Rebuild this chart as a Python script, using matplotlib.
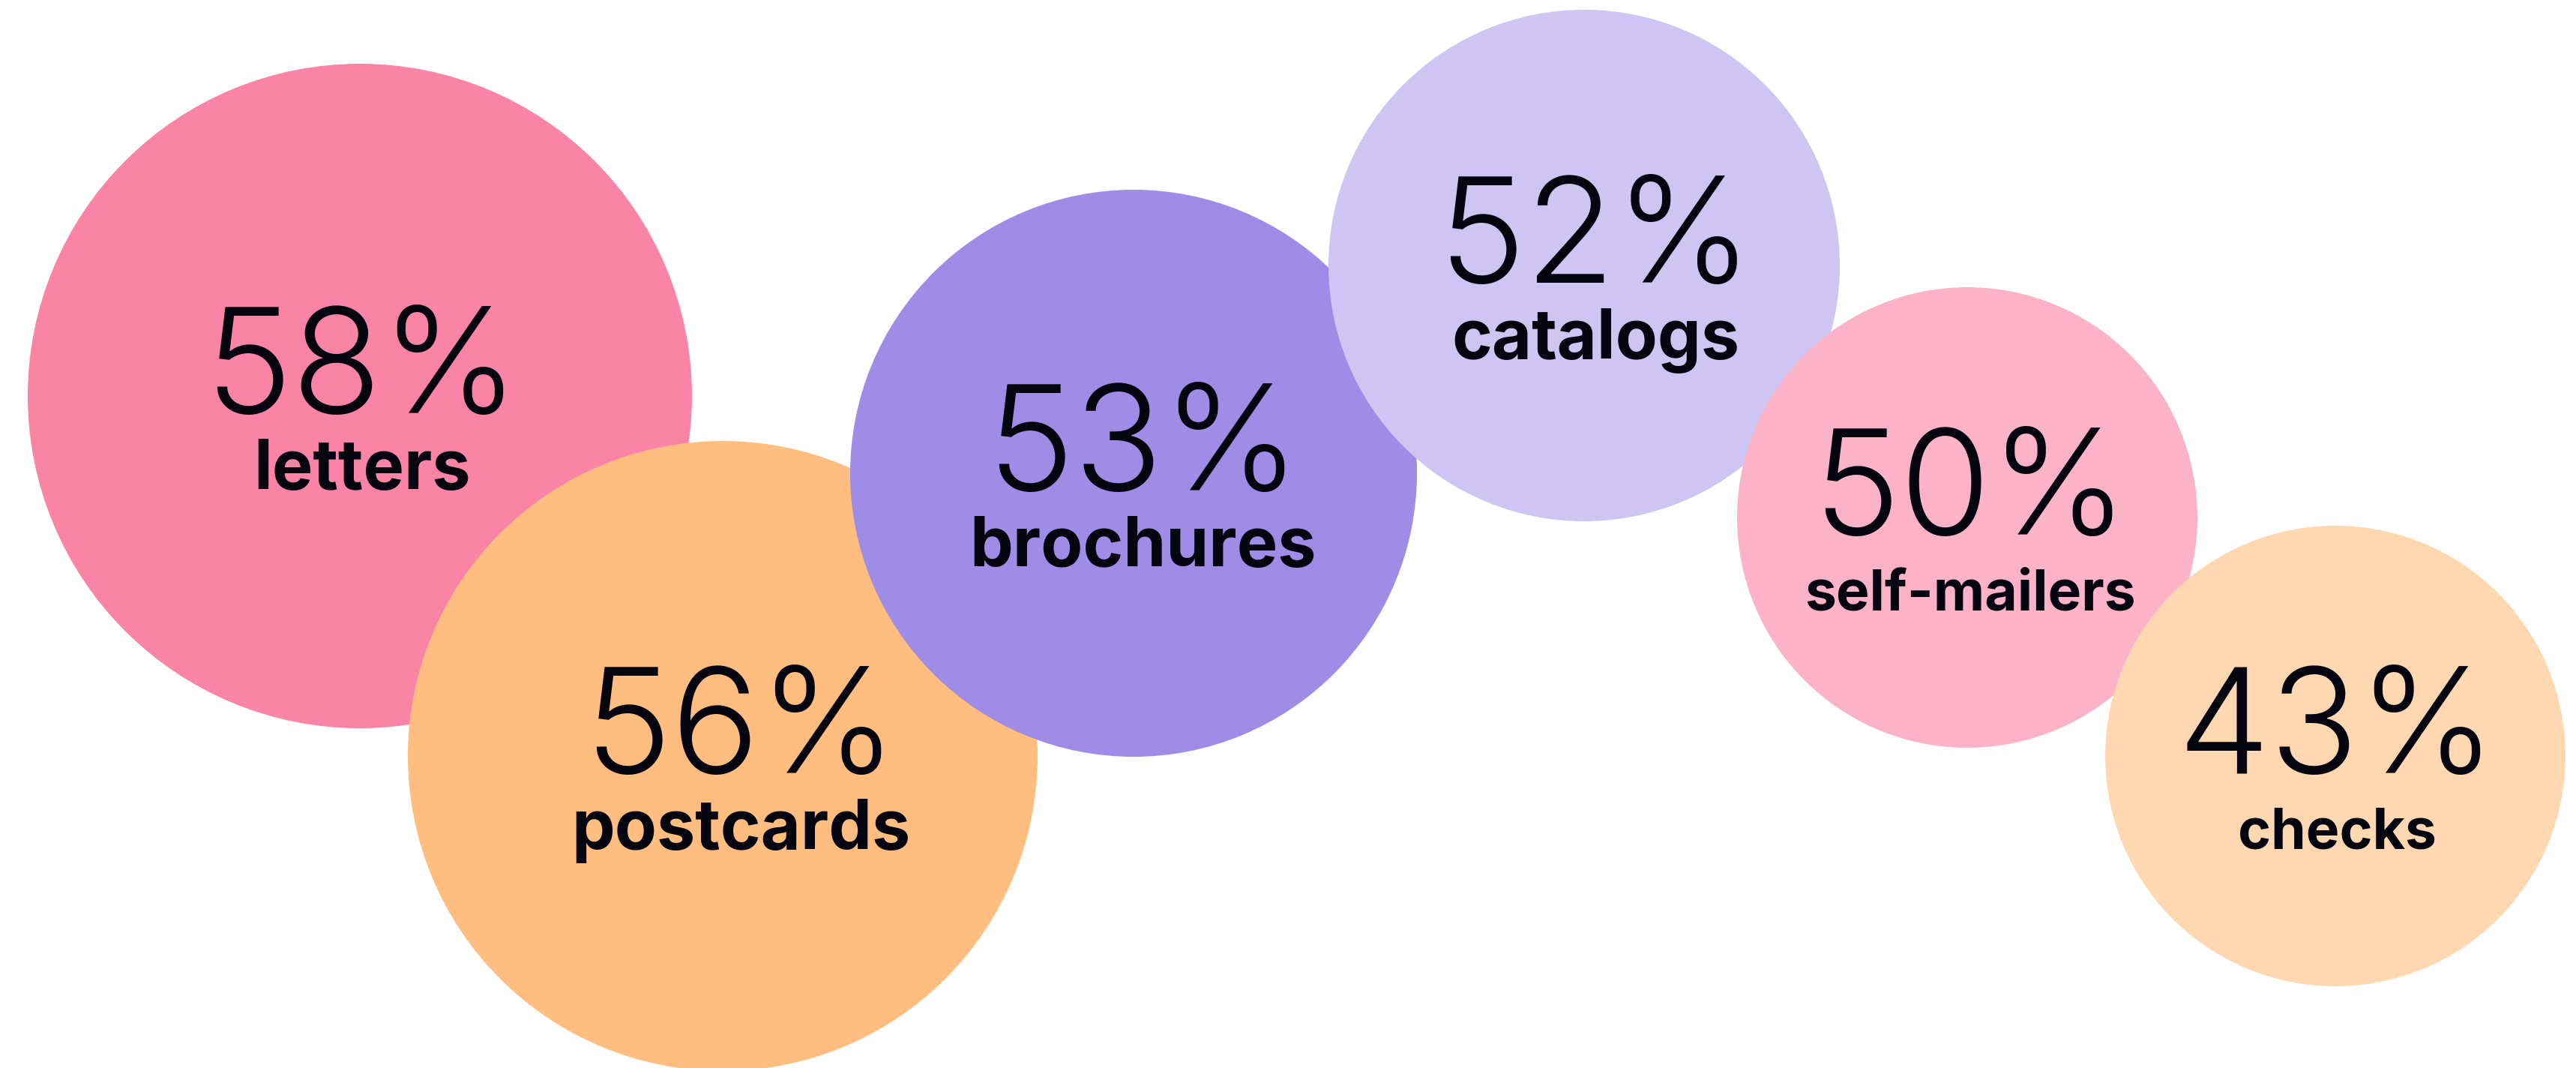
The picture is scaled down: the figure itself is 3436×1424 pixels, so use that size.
import matplotlib
matplotlib.use("Agg")
import matplotlib.pyplot as plt
from matplotlib.patches import Circle

# mail formats and their share
categories = ["letters", "postcards", "brochures", "catalogs", "self-mailers", "checks"]
shares = [58, 56, 53, 52, 50, 43]

# bubble layout (pixel units, y grows downward)
bubble_x = [480, 964, 1512, 2113, 2624, 3115]
bubble_y = [528, 1008, 631, 354, 690, 1008]
bubble_r = [443, 420, 378, 341, 307, 307]
colors = ["#FA84A6", "#FFBD80", "#9F8CE6", "#CFC5F2", "#FCB3C8", "#FFD8B2"]

# text nudges inside each bubble
text_dx = [3, 24, 13, 15, 4, 2]
label_size = [66, 66, 66, 66, 54, 54]

W, H = 3437, 1424
INK = "#05050F"

fig = plt.figure(figsize=(W / 100, H / 100), dpi=100)
ax = fig.add_axes([0, 0, 1, 1])
ax.set_xlim(0, W)
ax.set_ylim(H, 0)
ax.axis("off")

for i, cat in enumerate(categories):
    x, y, r = bubble_x[i], bubble_y[i], bubble_r[i]
    ax.add_patch(Circle((x, y), r, facecolor=colors[i], edgecolor="none", zorder=i * 2))
    tx = x + text_dx[i]
    ax.text(tx, y + 23, f"{shares[i]}%", ha="center", va="baseline",
            family="Inter", weight=300, fontsize=141, color=INK, zorder=i * 2 + 1)
    ax.text(tx, y + 124, cat, ha="center", va="baseline",
            family="Inter", weight="bold", fontsize=label_size[i], color=INK, zorder=i * 2 + 1)

fig.savefig("out.png", dpi=100)
